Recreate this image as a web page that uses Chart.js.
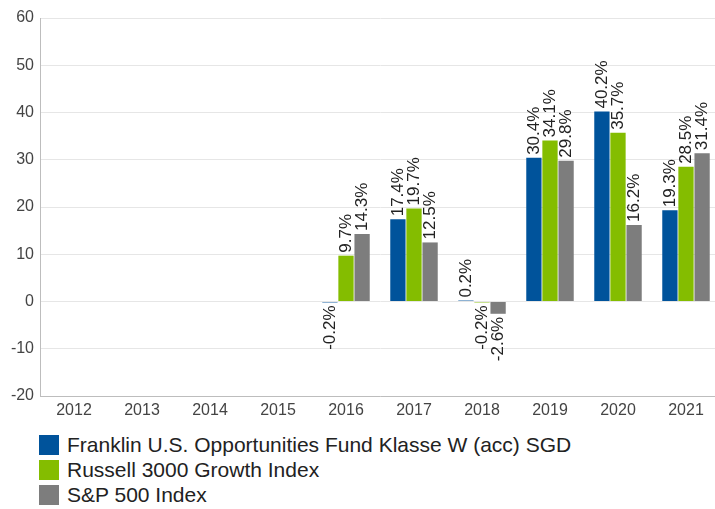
<!DOCTYPE html>
<html>
<head>
<meta charset="utf-8">
<script src="https://cdn.jsdelivr.net/npm/chart.js@4/dist/chart.umd.min.js"></script>
<style>
  html, body { margin: 0; padding: 0; background: #fff; overflow: hidden; width: 715px; height: 509px; }
  #wrap { position: relative; width: 722px; height: 430px; }
  #legend { position: absolute; left: 39px; top: 432px; font-family: "Liberation Sans", Arial, sans-serif; font-size: 21px; color: #222; }
  .row { height: 25px; display: flex; align-items: center; }
  .sw { width: 20px; height: 20px; margin-right: 8px; }
</style>
</head>
<body>
<div id="wrap"><canvas id="chartCanvas" width="722" height="430"></canvas></div>
<div id="legend"></div>
<script>
const years = ["2012", "2013", "2014", "2015", "2016", "2017", "2018", "2019", "2020", "2021"];
const franklin = [null, null, null, null, -0.2, 17.4, 0.2, 30.4, 40.2, 19.3];
const russell = [null, null, null, null, 9.7, 19.7, -0.2, 34.1, 35.7, 28.5];
const sp500 = [null, null, null, null, 14.3, 12.5, -2.6, 29.8, 16.2, 31.4];
const seriesNames = ["Franklin U.S. Opportunities Fund Klasse W (acc) SGD", "Russell 3000 Growth Index", "S&P 500 Index"];
const colors = ["#00539b", "#84bd00", "#7d7d7d"];

const font = "'Liberation Sans', Arial, sans-serif";

// labels rotated along the bars
const barLabels = {
  id: "barLabels",
  afterDatasetsDraw(chart) {
    const c = chart.ctx;
    c.save();
    c.font = "17px " + font;
    c.fillStyle = "#222";
    c.textBaseline = "middle";
    chart.data.datasets.forEach((ds, i) => {
      chart.getDatasetMeta(i).data.forEach((bar, j) => {
        const v = ds.data[j];
        if (v === null) return;
        c.save();
        c.translate(bar.x, bar.y);
        c.rotate(-Math.PI / 2);
        if (v >= 0) {
          c.textAlign = "left";
          c.fillText(v.toFixed(1) + "%", 3, 0);
        } else {
          c.textAlign = "right";
          c.fillText(v.toFixed(1) + "%", -3, 0);
        }
        c.restore();
      });
    });
    c.restore();
  }
};

const ctx = document.getElementById("chartCanvas").getContext("2d");
new Chart(ctx, {
  type: "bar",
  data: {
    labels: years,
    datasets: [franklin, russell, sp500].map((d, i) => ({
      label: seriesNames[i],
      data: d,
      backgroundColor: colors[i],
      borderWidth: 0,
      categoryPercentage: 0.71,
      barPercentage: 0.95,
    })),
  },
  options: {
    responsive: false,
    animation: false,
    layout: { padding: { top: 18, right: 2, left: 0, bottom: 0 } },
    plugins: { legend: { display: false }, tooltip: { enabled: false } },
    scales: {
      x: {
        grid: { display: false, drawTicks: false },
        border: { color: "#bdbdbd" },
        ticks: { color: "#444", font: { family: font, size: 16 }, padding: 5, maxRotation: 0 },
        afterFit: (s) => { s.height = 34; },
      },
      y: {
        min: -20,
        max: 60,
        ticks: { stepSize: 10, color: "#444", font: { family: font, size: 16 }, padding: 6 },
        grid: { color: "#e6e6e6", drawTicks: false },
        border: { color: "#bdbdbd" },
        afterFit: (s) => { s.width = 40; },
      },
    },
  },
  plugins: [barLabels],
});

const legend = document.getElementById("legend");
seriesNames.forEach((n, i) => {
  const row = document.createElement("div");
  row.className = "row";
  const sw = document.createElement("div");
  sw.className = "sw";
  sw.style.background = colors[i];
  const t = document.createElement("span");
  t.textContent = n;
  row.appendChild(sw);
  row.appendChild(t);
  legend.appendChild(row);
});
</script>
</body>
</html>
